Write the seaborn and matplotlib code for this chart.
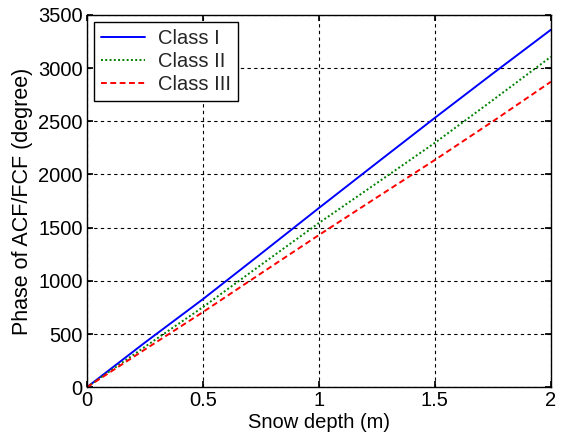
import pandas as pd
import matplotlib.pyplot as plt
import seaborn as sns

# valores
depth = [0, 0.25, 0.5, 0.75, 1.0, 1.25, 1.5, 1.75, 2.0]
class_1 = [0, 420, 828, 1255, 1685, 2110, 2533, 2950, 3361]
class_2 = [0, 380, 753, 1150, 1544, 1920, 2298, 2700, 3107]
class_3 = [0, 355, 706, 1070, 1431, 1785, 2137, 2500, 2872]
labels = ['Class I', 'Class II', 'Class III']

df = pd.DataFrame({'depth': depth * 3,
                   'phase': class_1 + class_2 + class_3,
                   'classe': [l for l in labels for _ in depth]})

sns.set_theme(style='white')
plt.rcParams['font.family'] = ['Liberation Sans', 'DejaVu Sans']

fig = plt.figure(figsize=(5.61, 4.40), dpi=100)
ax = fig.add_axes([0.155, 0.12, 0.827, 0.846])

sns.lineplot(data=df, x='depth', y='phase', hue='classe', style='classe',
             palette=['#0000ff', '#008000', '#ff0000'],
             dashes=[(None, None), (1, 1.2), (3, 1.8)],
             linewidth=1.4, ax=ax)

ax.set_xlim(0, 2)
ax.set_ylim(0, 3500)
ax.set_xticks([0, 0.5, 1, 1.5, 2])
ax.set_xticklabels(['0', '0.5', '1', '1.5', '2'])
ax.set_yticks(range(0, 3501, 500))
ax.grid(True, color='black', linestyle=(0, (3, 3)), linewidth=0.8)
ax.tick_params(direction='in', length=4, labelsize=14.5, colors='black',
               top=True, right=True, bottom=True, left=True, pad=3)
for s in ax.spines.values():
    s.set_color('black')
    s.set_linewidth(1.0)

ax.set_xlabel('Snow depth (m)', fontsize=14.5, color='black', labelpad=2)
ax.set_ylabel('Phase of ACF/FCF (degree)', fontsize=15.5, color='black', labelpad=4)

leg = ax.legend(loc='upper left', fontsize=14.5, frameon=True, fancybox=False,
                edgecolor='black', framealpha=1, handlelength=2.2,
                handletextpad=0.65, borderaxespad=0.35, labelspacing=0.2,
                borderpad=0.35)
leg.get_frame().set_linewidth(1.0)

plt.savefig('out.png', dpi=100)
